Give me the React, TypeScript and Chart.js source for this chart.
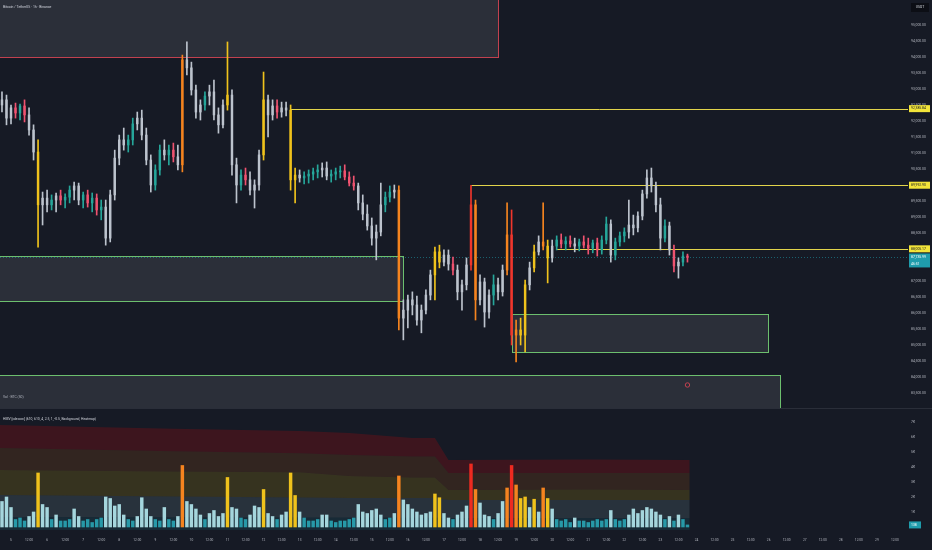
import React, { useEffect, useRef } from "react";
import { Chart, registerables } from "chart.js";

Chart.register(...registerables);

// ---------------- data (3-hour candles, index 0 = Dec 4 18:00) ----------------
const OPEN = [
  92500, 92660, 92090, 92410, 92250, 92470, 92190, 91720, 91030, 89380,
  89590, 89380, 89530, 89660, 89530, 89620, 89840, 89970, 89530, 89690,
  89440, 89590, 89220, 89310, 88340, 89690, 90840, 91410, 91250, 91410,
  91910, 92090, 91560, 90780, 90000, 90470, 91090, 90940, 91090, 90880,
  90630, 93910, 93660, 92970, 92280, 92500, 92780, 92910, 92190, 91880,
  92500, 92810, 90630, 90000, 90310, 90160, 89840, 90000, 90940, 92660,
  92190, 92470, 92280, 92410, 92340, 90160, 90310, 90220, 90280, 90340,
  90410, 90470, 90530, 90280, 90340, 90410, 90440, 90250, 90060, 89970,
  89440, 89090, 88720, 88340, 88530, 89380, 89620, 89780, 89840, 85840,
  86090, 86410, 86250, 85780, 86090, 86560, 87190, 87910, 87590, 87810,
  87530, 87340, 86660, 86880, 87500, 89380, 86410, 86970, 86030, 86560,
  86880, 86660, 87340, 88440, 85310, 85470, 85310, 86880, 87410, 87910,
  88220, 88090, 87720, 88090, 88280, 88160, 88250, 88160, 88090, 88220,
  88120, 88030, 88190, 87970, 88280, 88780, 87810, 88220, 88410, 88530,
  88750, 88660, 89030, 89720, 90220, 89970, 89380, 88340, 88720, 87970,
  87470, 87590, 87780,
];
const HIGH = [
  92910, 92810, 92500, 92560, 92530, 92660, 92410, 91880, 91410, 89780,
  89840, 89690, 89750, 89840, 89720, 89970, 90090, 90060, 89780, 89840,
  89750, 89720, 89530, 89530, 89840, 91090, 91560, 91780, 91560, 92090,
  92280, 92340, 91780, 90940, 90630, 91250, 91410, 91250, 91310, 91250,
  94060, 94470, 93840, 93120, 92660, 92910, 93120, 93280, 92410, 92660,
  94470, 92970, 90840, 90470, 90530, 90410, 90160, 91090, 93530, 92810,
  92660, 92660, 92590, 92590, 92500, 90530, 90470, 90410, 90470, 90530,
  90630, 90690, 90720, 90470, 90530, 90590, 90630, 90410, 90280, 90060,
  89690, 89380, 88970, 88750, 90060, 89780, 89970, 90000, 89970, 86410,
  86560, 86660, 86530, 86250, 86720, 87340, 88060, 88120, 87970, 87970,
  87750, 87500, 87030, 87720, 89993, 89530, 87190, 87090, 86720, 87190,
  87090, 87500, 89440, 89220, 85780, 85840, 87030, 87590, 88120, 88410,
  89440, 88280, 88280, 88410, 88470, 88380, 88410, 88340, 88310, 88410,
  88340, 88280, 88340, 88410, 89000, 88910, 88340, 88530, 88660, 89530,
  89060, 89160, 89840, 90470, 90530, 90090, 89590, 88910, 88840, 88120,
  87720, 87910, 87840,
];
const LOW = [
  92280, 91880, 91910, 92090, 92030, 91970, 91560, 90780, 88060, 88750,
  89160, 89220, 89160, 89380, 89280, 89440, 89530, 89380, 89280, 89310,
  89160, 89060, 88910, 88120, 88220, 89530, 90630, 91090, 91030, 91250,
  91720, 91410, 90630, 89780, 89840, 90310, 90780, 90630, 90720, 90470,
  90410, 93440, 92810, 92090, 92030, 92340, 92500, 92030, 91620, 91780,
  92340, 90310, 89440, 89840, 90000, 89690, 89280, 89840, 90780, 91500,
  92030, 92090, 92120, 92160, 89840, 89440, 90090, 90030, 90060, 90160,
  90220, 90250, 90160, 90090, 90160, 90220, 90160, 89970, 89840, 89220,
  88910, 88590, 88120, 87660, 88410, 89160, 89470, 89590, 85470, 85160,
  85530, 85940, 85620, 85380, 85970, 86410, 86410, 87410, 87470, 87340,
  87190, 86410, 86090, 86720, 87340, 85780, 86250, 85560, 85840, 86250,
  86410, 86530, 87190, 85000, 84470, 85000, 84780, 86720, 87280, 87810,
  87970, 86940, 87590, 87970, 88030, 87970, 88060, 87910, 87940, 88030,
  87840, 87880, 87780, 87840, 88160, 87590, 87660, 88090, 88220, 88340,
  88440, 88530, 88910, 89590, 89780, 89160, 87970, 88220, 87810, 87280,
  87090, 87470, 87590,
];
const CLOSE = [
  92660, 92090, 92410, 92250, 92470, 92190, 91720, 91030, 89380, 89590,
  89380, 89530, 89660, 89530, 89620, 89840, 89970, 89530, 89690, 89440,
  89590, 89220, 89310, 88340, 89690, 90840, 91410, 91250, 91410, 91910,
  92090, 91560, 90780, 90000, 90470, 91090, 90940, 91090, 90880, 90630,
  93910, 93660, 92970, 92280, 92500, 92780, 92910, 92190, 91880, 92500,
  92810, 90630, 90000, 90310, 90160, 89840, 90000, 90940, 92660, 92190,
  92470, 92280, 92410, 92340, 90160, 90310, 90220, 90280, 90340, 90410,
  90470, 90530, 90280, 90340, 90410, 90440, 90250, 90060, 89970, 89440,
  89090, 88720, 88340, 88530, 89380, 89620, 89780, 89840, 85840, 86090,
  86410, 86250, 85780, 86090, 86560, 87190, 87910, 87590, 87810, 87530,
  87340, 86660, 86880, 87500, 89380, 86410, 86970, 86030, 86560, 86880,
  86660, 87340, 88440, 85310, 85470, 85310, 86880, 87410, 87910, 88220,
  88090, 87720, 88090, 88280, 88160, 88250, 88160, 88090, 88220, 88120,
  88030, 88190, 87970, 88280, 88780, 87810, 88220, 88410, 88530, 88750,
  88660, 89030, 89720, 90220, 89970, 89380, 88340, 88720, 87970, 87470,
  87590, 87780, 87736,
];
// volume in thousands of BTC
const VOLUME_K = [
  1.7, 2.0, 1.3, 0.5, 0.6, 0.4, 0.7, 1.0, 3.6, 1.5,
  1.3, 0.5, 0.8, 0.4, 0.4, 0.5, 1.2, 0.7, 0.4, 0.5,
  0.3, 0.5, 0.6, 2.0, 1.9, 1.4, 1.5, 0.8, 0.5, 0.4,
  0.7, 1.95, 1.2, 0.7, 0.5, 0.4, 1.3, 0.5, 0.4, 0.7,
  4.1, 1.7, 1.5, 1.2, 0.8, 0.5, 0.9, 1.1, 0.7, 0.9,
  3.3, 1.3, 1.2, 0.6, 0.5, 0.8, 1.4, 1.3, 2.5, 0.9,
  0.7, 0.5, 0.8, 1.0, 3.6, 2.1, 1.0, 0.6, 0.4, 0.4,
  0.5, 0.8, 0.8, 0.4, 0.3, 0.4, 0.4, 0.5, 0.6, 1.5,
  1.0, 0.9, 1.1, 1.2, 0.8, 0.5, 0.6, 0.9, 3.4, 1.8,
  1.5, 1.2, 1.0, 0.8, 0.9, 1.0, 2.2, 1.95, 0.9, 0.6,
  0.5, 0.8, 1.0, 1.4, 4.2, 2.5, 1.6, 0.8, 0.7, 0.5,
  0.9, 1.7, 2.6, 4.1, 2.8, 1.9, 2.0, 1.3, 1.85, 1.0,
  2.6, 1.9, 1.2, 0.5, 0.4, 0.5, 0.3, 0.6, 0.4, 0.4,
  0.3, 0.4, 0.5, 0.4, 0.5, 1.1, 0.5, 0.4, 0.5, 0.8,
  1.2, 0.9, 1.1, 1.3, 1.2, 1.0, 0.8, 0.5, 0.7, 0.4,
  0.8, 0.5, 0.138,
];

// HMV heatmap threshold bands (K), at candle-index knots
const BAND_X = [-0.5, 38, 66, 77, 91, 96, 99, 130, 152.5];
const BAND_TOP = [6.8, 6.55, 6.4, 6.27, 5.93, 5.93, 4.47, 4.5, 4.47];
const THRESH_EXTRA = [5.27, 5.05, 4.92, 4.8, 4.7, 4.7, 3.6, 3.6, 3.6];
const THRESH_HIGH = [3.8, 3.7, 3.65, 3.4, 3.3, 3.3, 2.47, 2.5, 2.47];
const THRESH_MEDIUM = [2.13, 2.03, 1.97, 1.93, 1.93, 1.93, 1.8, 1.8, 1.8];
const THRESH_NORMAL = [0.67, 0.65, 0.64, 0.63, 0.62, 0.62, 0.6, 0.6, 0.6];

// axis ticks
const PRICE_TICKS = [
  83500, 84000, 84500, 85000, 85500, 86000, 86500, 87000, 87500, 88000, 88500, 89000,
  89500, 90000, 90500, 91000, 91500, 92000, 92500, 93000, 93500, 94000, 94500, 95000,
];
const VOLUME_TICKS = [1, 2, 3, 4, 5, 6, 7];
const TIME_TICKS = [
  "5", "12:00", "6", "12:00", "7", "12:00", "8", "12:00", "9", "12:00", "10", "12:00",
  "11", "12:00", "12", "12:00", "13", "12:00", "14", "12:00", "15", "12:00", "16", "12:00",
  "17", "12:00", "18", "12:00", "19", "12:00", "20", "12:00", "21", "12:00", "22", "12:00",
  "23", "12:00", "24", "12:00", "25", "12:00", "26", "12:00", "27", "12:00", "28", "12:00",
  "29", "12:00",
];
const TIME_TICK_START = 2; // candle index of Dec 5 00:00
const CANDLES_PER_HALF_DAY = 4;

// horizontal levels
const LEVEL_PRICES = [92385.84, 89992.9, 88005.17];
const LEVEL_START = [64, 104, 123];
// zones
const BOX_LEFT = [-2, -2, 113.1, -2];
const BOX_RIGHT = [110, 88.9, 169.8, 172.5];
const BOX_TOP = [97000, 87781, 85969, 84062];
const BOX_BOTTOM = [94000, 86375, 84781, 82500];
const BOX_KIND = ["supply", "demand", "demand", "demand"];

const LAST_PRICE = 87735.99;
const COUNTDOWN = "46:51";
const LAST_VOLUME = 138;
const ALERT_PRICE = 83750;

// ---------------- layout / style ----------------
const W = 932;
const H = 550;
const MAIN_H = 408;
const AXIS_W = 24;
const X_MIN = -0.44;
const X_MAX = 200.9;
const PRICE_MIN = 83031;
const PRICE_MAX = 95781;
const VOL_MIN = -0.2;
const VOL_MAX = 7.93;

const BG = "#161a25";
const TEXT = "#b2b5be";
const FONT = "Roboto, 'Noto Sans', sans-serif";

const HEAT = ["#2799a8", "#a5d6dd", "#efc21c", "#f5841f", "#ee2a20"];
const HEAT_BG = [
  "rgba(31,156,172,0.13)",
  "rgba(160,214,220,0.13)",
  "rgba(255,207,3,0.14)",
  "rgba(255,120,0,0.12)",
  "rgba(255,0,0,0.17)",
];

function interp(xs: number[], ys: number[], x: number) {
  if (x <= xs[0]) return ys[0];
  for (let k = 1; k < xs.length; k++) {
    if (x <= xs[k]) {
      const t = (x - xs[k - 1]) / (xs[k] - xs[k - 1]);
      return ys[k - 1] + t * (ys[k] - ys[k - 1]);
    }
  }
  return ys[ys.length - 1];
}

function levelOf(i: number) {
  const v = VOLUME_K[i];
  if (v >= interp(BAND_X, THRESH_EXTRA, i)) return 4;
  if (v >= interp(BAND_X, THRESH_HIGH, i)) return 3;
  if (v >= interp(BAND_X, THRESH_MEDIUM, i)) return 2;
  if (v >= interp(BAND_X, THRESH_NORMAL, i)) return 1;
  return 0;
}

const fmtPrice = (v: number) =>
  v.toLocaleString("en-US", { minimumFractionDigits: 2, maximumFractionDigits: 2 });

function font(size: number, bold = false) {
  return `${bold ? "bold " : ""}${size}px ${FONT}`;
}

const mainDecor = {
  id: "mainDecor",
  beforeDatasetsDraw(chart: any) {
    const { ctx, chartArea: a, scales } = chart;
    const xs = scales.x;
    const ys = scales.y;
    ctx.save();
    ctx.beginPath();
    ctx.rect(a.left, a.top, a.right - a.left, a.bottom - a.top);
    ctx.clip();
    BOX_LEFT.forEach((_, k) => {
      const x1 = Math.round(xs.getPixelForValue(BOX_LEFT[k]));
      const x2 = Math.round(xs.getPixelForValue(BOX_RIGHT[k]));
      const y1 = Math.round(ys.getPixelForValue(BOX_TOP[k]));
      const y2 = Math.round(ys.getPixelForValue(BOX_BOTTOM[k]));
      ctx.fillStyle = "rgba(120,123,134,0.22)";
      ctx.fillRect(x1, y1, x2 - x1, y2 - y1);
      ctx.strokeStyle = BOX_KIND[k] === "supply" ? "#c2414f" : "#6cbf6e";
      ctx.lineWidth = 1;
      ctx.strokeRect(x1 + 0.5, y1 + 0.5, x2 - x1, y2 - y1);
    });
    ctx.strokeStyle = "#e2d44b";
    ctx.lineWidth = 1;
    LEVEL_PRICES.forEach((p, k) => {
      const y = Math.round(ys.getPixelForValue(p)) + 0.5;
      ctx.beginPath();
      ctx.moveTo(xs.getPixelForValue(LEVEL_START[k]), y);
      ctx.lineTo(a.right, y);
      ctx.stroke();
    });
    // last price dotted line
    const yl = Math.round(ys.getPixelForValue(LAST_PRICE)) + 0.5;
    ctx.setLineDash([1, 2]);
    ctx.strokeStyle = "rgba(31,156,172,0.55)";
    ctx.beginPath();
    ctx.moveTo(a.left, yl);
    ctx.lineTo(a.right, yl);
    ctx.stroke();
    ctx.restore();
  },
  afterDraw(chart: any) {
    const { ctx, scales } = chart;
    const xs = scales.x;
    const ys = scales.y;
    ctx.save();
    // price axis labels
    ctx.font = font(3.4);
    ctx.fillStyle = TEXT;
    ctx.textAlign = "left";
    ctx.textBaseline = "middle";
    PRICE_TICKS.forEach((v) => {
      ctx.fillText(fmtPrice(v), ys.left + 3, ys.getPixelForValue(v));
    });
    // level labels
    LEVEL_PRICES.forEach((p) => {
      const y = ys.getPixelForValue(p);
      ctx.fillStyle = "#f2e43a";
      ctx.fillRect(ys.left + 1, y - 3.5, 21, 7);
      ctx.fillStyle = "#131722";
      ctx.font = font(3.4);
      ctx.fillText(fmtPrice(p), ys.left + 3, y);
    });
    // last price label
    const yl = ys.getPixelForValue(LAST_PRICE);
    ctx.fillStyle = "#1f9cac";
    ctx.fillRect(ys.left + 1, yl - 4, 21, 14);
    ctx.fillStyle = "#ffffff";
    ctx.fillText(fmtPrice(LAST_PRICE), ys.left + 3, yl);
    ctx.fillText(COUNTDOWN, ys.left + 3, yl + 6.5);
    // currency box
    ctx.fillStyle = "#0c0e15";
    ctx.fillRect(ys.left + 3, 3, 18, 9);
    ctx.fillStyle = "#d1d4dc";
    ctx.textAlign = "center";
    ctx.fillText("USDT", ys.left + 12, 7.5);
    // titles
    ctx.textAlign = "left";
    ctx.fillStyle = "#d1d4dc";
    ctx.fillText("Bitcoin / TetherUS · 1h · Binance", 3, 7);
    ctx.fillStyle = TEXT;
    ctx.fillText("Vol · BTC (50)", 3, 397);
    // alert marker
    ctx.strokeStyle = "#c2414f";
    ctx.lineWidth = 1;
    ctx.beginPath();
    ctx.arc(xs.getPixelForValue(CLOSE.length - 1), ys.getPixelForValue(ALERT_PRICE), 2.2, 0, Math.PI * 2);
    ctx.stroke();
    ctx.restore();
  },
};

const volDecor = {
  id: "volDecor",
  afterDraw(chart: any) {
    const { ctx, scales } = chart;
    const ys = scales.y;
    ctx.save();
    ctx.strokeStyle = "#2a2e39";
    ctx.lineWidth = 1;
    ctx.beginPath();
    ctx.moveTo(0, 0.5);
    ctx.lineTo(W, 0.5);
    ctx.stroke();
    ctx.font = font(3.4);
    ctx.fillStyle = TEXT;
    ctx.textAlign = "left";
    ctx.textBaseline = "middle";
    VOLUME_TICKS.forEach((v) => {
      ctx.fillText(`${v}K`, ys.left + 3, ys.getPixelForValue(v));
    });
    const yv = ys.getPixelForValue(LAST_VOLUME / 1000);
    ctx.fillStyle = "#1f9cac";
    ctx.fillRect(ys.left + 1, yv - 3.5, 12, 7);
    ctx.fillStyle = "#ffffff";
    ctx.fillText(String(LAST_VOLUME), ys.left + 3, yv);
    ctx.fillStyle = "#d1d4dc";
    ctx.fillText("HMV [xdecow] (610, 610, 4, 2.5, 1, -0.5, Background, Heatmap)", 3, 11);
    ctx.restore();
  },
};

function buildMain(canvas: HTMLCanvasElement) {
  const idx = CLOSE.map((_, i) => i);
  const colors = idx.map((i) => {
    const l = levelOf(i);
    if (l === 4) return "#f0362c";
    if (l === 3) return "#f5841f";
    if (l === 2) return "#efc21c";
    if (l === 1) return "#bcc3cd";
    return CLOSE[i] >= OPEN[i] ? "#26a69a" : "#ef5370";
  });
  return new Chart(canvas, {
    type: "bar",
    data: {
      datasets: [
        {
          data: idx.map((i) => ({ x: i, y: [LOW[i], HIGH[i]] })),
          backgroundColor: colors,
          barThickness: 1,
          grouped: false,
          order: 2,
        } as any,
        {
          data: idx.map((i) => ({ x: i, y: [Math.min(OPEN[i], CLOSE[i]), Math.max(OPEN[i], CLOSE[i])] })),
          backgroundColor: colors,
          barThickness: 1.8,
          minBarLength: 1,
          grouped: false,
          order: 1,
        } as any,
      ],
    },
    options: {
      animation: false,
      responsive: false,
      devicePixelRatio: 1,
      events: [],
      layout: { padding: 0 },
      plugins: { legend: { display: false }, tooltip: { enabled: false } },
      scales: {
        x: { type: "linear", min: X_MIN, max: X_MAX, display: false, offset: false },
        y: {
          position: "right",
          min: PRICE_MIN,
          max: PRICE_MAX,
          grid: { display: false },
          border: { display: false },
          ticks: { display: false },
          afterBuildTicks: (s: any) => {
            s.ticks = PRICE_TICKS.map((v) => ({ value: v }));
          },
          afterFit: (s: any) => {
            s.width = AXIS_W;
          },
        },
      },
    } as any,
    plugins: [mainDecor],
  });
}

function buildVolume(canvas: HTMLCanvasElement) {
  const idx = VOLUME_K.map((_, i) => i);
  const colors = idx.map((i) => HEAT[levelOf(i)]);
  const band = (ys: number[], color: string, fill: any) => ({
    type: "line",
    data: BAND_X.map((x, k) => ({ x, y: ys[k] })),
    borderWidth: 0,
    borderColor: "rgba(0,0,0,0)",
    pointRadius: 0,
    backgroundColor: color,
    fill,
    tension: 0,
    order: 5,
  });
  return new Chart(canvas, {
    type: "bar",
    data: {
      datasets: [
        band(THRESH_NORMAL, HEAT_BG[0], "start"),
        band(THRESH_MEDIUM, HEAT_BG[1], "-1"),
        band(THRESH_HIGH, HEAT_BG[2], "-1"),
        band(THRESH_EXTRA, HEAT_BG[3], "-1"),
        band(BAND_TOP, HEAT_BG[4], "-1"),
        {
          type: "bar",
          data: idx.map((i) => ({ x: i, y: VOLUME_K[i] })),
          backgroundColor: colors,
          barThickness: 2.8,
          grouped: false,
          order: 0,
        },
      ] as any,
    },
    options: {
      animation: false,
      responsive: false,
      devicePixelRatio: 1,
      events: [],
      layout: { padding: 0 },
      plugins: { legend: { display: false }, tooltip: { enabled: false } },
      scales: {
        x: {
          type: "linear",
          min: X_MIN,
          max: X_MAX,
          offset: false,
          grid: { display: false, drawTicks: false },
          border: { display: false },
          afterBuildTicks: (s: any) => {
            s.ticks = TIME_TICKS.map((_, k) => ({ value: TIME_TICK_START + k * CANDLES_PER_HALF_DAY }));
          },
          ticks: {
            autoSkip: false,
            maxRotation: 0,
            minRotation: 0,
            color: TEXT,
            padding: 8,
            font: { size: 3.2, family: FONT },
            callback: (_v: any, k: number) => TIME_TICKS[k],
          },
          afterFit: (s: any) => {
            s.height = 20;
          },
        },
        y: {
          position: "right",
          min: VOL_MIN,
          max: VOL_MAX,
          grid: { display: false },
          border: { display: false },
          ticks: { display: false },
          afterBuildTicks: (s: any) => {
            s.ticks = VOLUME_TICKS.map((v) => ({ value: v }));
          },
          afterFit: (s: any) => {
            s.width = AXIS_W;
          },
        },
      },
    } as any,
    plugins: [volDecor],
  });
}

export default function App() {
  const mainRef = useRef<HTMLCanvasElement>(null);
  const volRef = useRef<HTMLCanvasElement>(null);
  useEffect(() => {
    const c1 = buildMain(mainRef.current as HTMLCanvasElement);
    const c2 = buildVolume(volRef.current as HTMLCanvasElement);
    return () => {
      c1.destroy();
      c2.destroy();
    };
  }, []);
  return (
    <div
      style={{
        position: "absolute",
        left: 0,
        top: 0,
        width: W,
        height: H,
        background: BG,
        overflow: "hidden",
      }}
    >
      <canvas
        ref={mainRef}
        width={W}
        height={MAIN_H}
        style={{ position: "absolute", left: 0, top: 0, width: W, height: MAIN_H, display: "block" }}
      />
      <canvas
        ref={volRef}
        width={W}
        height={H - MAIN_H}
        style={{ position: "absolute", left: 0, top: MAIN_H, width: W, height: H - MAIN_H, display: "block" }}
      />
    </div>
  );
}
